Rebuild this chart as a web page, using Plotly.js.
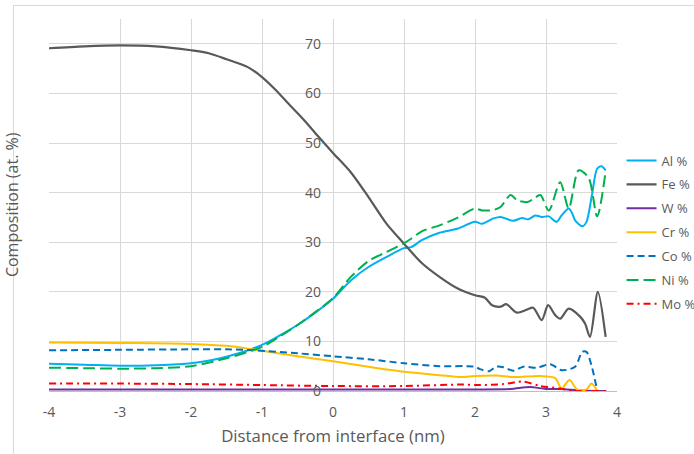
<!DOCTYPE html>
<html>
<head>
<meta charset="utf-8">
<script src="https://cdn.plot.ly/plotly-3.0.1.min.js"></script>
<style>
  html, body { margin: 0; padding: 0; background: #ffffff; overflow: hidden; }
  #frame { position: absolute; left: 13px; top: 5px; width: 800px; height: 600px; border: 1px solid #D9D9D9; }
  #chart { position: absolute; left: 0; top: 0; width: 694px; height: 454px; }
</style>
</head>
<body>
<div id="frame"></div>
<div id="chart"></div>
<script>
// ---- Data ----
const seriesNames = ["Al %", "Fe %", "W %", "Cr %", "Co %", "Ni %", "Mo %"];

const alX = [-4, -3.5, -3, -2.5, -2, -1.5, -1, -0.75, -0.5, -0.25, 0, 0.25, 0.5, 0.75, 1, 1.1, 1.25, 1.5, 1.75, 2, 2.1, 2.26, 2.36, 2.54, 2.66, 2.75, 2.85, 2.94, 3.04, 3.15, 3.22, 3.32, 3.37, 3.41, 3.51, 3.57, 3.65, 3.72, 3.78, 3.84];
const alY = [5.5, 5.3, 5.1, 5.2, 5.6, 6.9, 9.3, 11.2, 13.3, 15.8, 18.6, 22.3, 25.0, 27.0, 28.8, 29.0, 30.4, 31.9, 32.7, 34.1, 33.7, 34.8, 35.1, 34.3, 34.9, 34.6, 35.4, 35.1, 35.2, 34.1, 35.4, 36.8, 35.8, 34.4, 33.2, 34.1, 39.8, 44.8, 45.3, 44.5];

const feX = [-4, -3.5, -3, -2.5, -2, -1.75, -1.5, -1.2, -1, -0.8, -0.6, -0.4, -0.2, 0, 0.25, 0.5, 0.75, 1, 1.25, 1.5, 1.75, 2, 2.14, 2.24, 2.36, 2.44, 2.59, 2.73, 2.82, 2.94, 3.03, 3.13, 3.2, 3.32, 3.48, 3.55, 3.62, 3.73, 3.84];
const feY = [69.1, 69.5, 69.7, 69.5, 68.7, 68.1, 66.9, 65.3, 63.3, 60.6, 57.5, 54.5, 51.2, 48.0, 44.1, 39.1, 33.8, 29.7, 25.8, 23.0, 20.7, 19.3, 18.8, 17.3, 17.0, 17.5, 15.8, 16.4, 16.8, 14.3, 17.3, 15.3, 14.6, 16.6, 15.0, 13.6, 10.9, 20.0, 10.9];

const wX = [-4, -2, 0, 1, 2, 2.5, 2.77, 3.0, 3.2, 3.5, 3.85];
const wY = [0.3, 0.3, 0.3, 0.3, 0.3, 0.4, 0.8, 0.4, 0.4, 0.1, 0.0];

const crX = [-4, -3, -2, -1.5, -1, -0.5, 0, 0.5, 1, 1.5, 1.8, 2, 2.3, 2.54, 2.92, 3.13, 3.22, 3.33, 3.44, 3.57, 3.64, 3.72];
const crY = [9.8, 9.7, 9.5, 9.1, 8.1, 7.0, 6.0, 4.9, 3.9, 3.2, 2.8, 3.0, 3.1, 2.8, 3.0, 2.6, 0.5, 2.2, 0.3, 0.3, 1.5, 0.1];

const coX = [-4, -3, -2, -1.5, -1.1, -0.5, 0, 0.5, 1, 1.5, 2, 2.07, 2.2, 2.3, 2.4, 2.54, 2.68, 2.87, 3.06, 3.22, 3.41, 3.51, 3.57, 3.64, 3.72];
const coY = [8.2, 8.3, 8.4, 8.4, 8.2, 7.6, 7.0, 6.4, 5.6, 5.0, 4.9, 4.4, 4.0, 4.9, 4.8, 4.1, 4.9, 4.7, 5.4, 4.2, 4.9, 7.9, 7.9, 5.2, 0.2];

const niX = [-4, -3.5, -3, -2.5, -2, -1.5, -1, -0.75, -0.5, -0.25, 0, 0.25, 0.5, 0.75, 1, 1.1, 1.25, 1.5, 1.75, 2, 2.1, 2.26, 2.36, 2.5, 2.6, 2.74, 2.83, 2.92, 3.04, 3.2, 3.32, 3.46, 3.6, 3.72, 3.84];
const niY = [4.7, 4.6, 4.5, 4.6, 5.0, 6.6, 8.9, 11.0, 13.3, 15.9, 18.7, 23.0, 26.2, 28.0, 29.8, 30.7, 32.2, 33.4, 34.9, 36.8, 36.4, 36.5, 37.1, 39.5, 38.4, 38.1, 38.8, 39.5, 36.4, 42.1, 36.8, 44.5, 43.0, 35.2, 44.3];

const moX = [-4, -3, -2, -1, 0, 1, 1.8, 2.07, 2.4, 2.68, 2.92, 3.2, 3.37, 3.6, 3.85];
const moY = [1.5, 1.5, 1.4, 1.2, 1.0, 1.0, 1.3, 1.2, 1.4, 1.9, 1.0, 0.5, 0.0, 0.0, 0.0];

const xTickVals = [-4, -3, -2, -1, 0, 1, 2, 3, 4];
const xTickText = ["-4", "-3", "-2", "-1", "0", "1", "2", "3", "4"];
const yTickVals = [0, 10, 20, 30, 40, 50, 60, 70];

// ---- Styles ----
const colors = ["#00B0F0", "#595959", "#7030A0", "#FFC000", "#0070C0", "#00B050", "#FF0000"];
const dashes = ["solid", "solid", "solid", "solid", "7px,4px", "12px,5px", "7px,4px,2px,4px"];
const widths = [2, 2.2, 2, 2, 2, 2, 2];
const xs = [alX, feX, wX, crX, coX, niX, moX];
const ys = [alY, feY, wY, crY, coY, niY, moY];

const traces = seriesNames.map((name, i) => ({
  type: "scatter",
  mode: "lines",
  name: name,
  legendgroup: "g" + i,
  x: xs[i],
  y: ys[i],
  line: { color: colors[i], width: widths[i], dash: dashes[i], shape: "spline", smoothing: 0.8 },
  hoverinfo: "skip"
}));

const txt = "#595959";
const fontFam = "'Open Sans', 'Noto Sans', sans-serif";

const layout = {
  width: 694,
  height: 454,
  margin: { l: 49, r: 77, t: 19, b: 63, autoexpand: false },
  paper_bgcolor: "rgba(0,0,0,0)",
  plot_bgcolor: "rgba(0,0,0,0)",
  font: { family: fontFam, color: txt, size: 14 },
  showlegend: true,
  legend: {
    x: 1.008, xanchor: "left",
    y: 0.66, yanchor: "top",
    font: { family: fontFam, size: 13, color: txt },
    tracegroupgap: 4,
    bgcolor: "rgba(0,0,0,0)",
    borderwidth: 0
  },
  xaxis: {
    range: [-4, 4],
    tickmode: "array",
    tickvals: xTickVals,
    ticktext: xTickText,
    showgrid: true,
    gridcolor: "#D9D9D9",
    gridwidth: 1,
    zeroline: true,
    zerolinecolor: "#D9D9D9",
    zerolinewidth: 1,
    showline: true,
    linecolor: "#BFBFBF",
    linewidth: 1,
    ticks: "",
    ticklabelstandoff: 8,
    tickfont: { family: fontFam, size: 14, color: txt },
    automargin: false,
    title: { text: "Distance from interface (nm)", font: { family: fontFam, size: 16.8, color: txt }, standoff: 10 }
  },
  yaxis: {
    range: [0, 75],
    anchor: "free",
    position: 0.5,
    side: "left",
    tickmode: "array",
    tickvals: yTickVals,
    showgrid: true,
    gridcolor: "#D9D9D9",
    gridwidth: 1,
    zeroline: false,
    showline: false,
    ticks: "",
    ticklabelstandoff: 12,
    tickfont: { family: fontFam, size: 14, color: txt },
    automargin: false
  },
  annotations: [{
    text: "Composition (at. %)",
    xref: "paper", yref: "paper",
    x: -0.065, y: 0.5,
    xanchor: "center", yanchor: "middle",
    textangle: -90,
    showarrow: false,
    font: { family: fontFam, size: 16, color: txt }
  }]
};

Plotly.newPlot("chart", traces, layout, { displayModeBar: false, staticPlot: true });
</script>
</body>
</html>
